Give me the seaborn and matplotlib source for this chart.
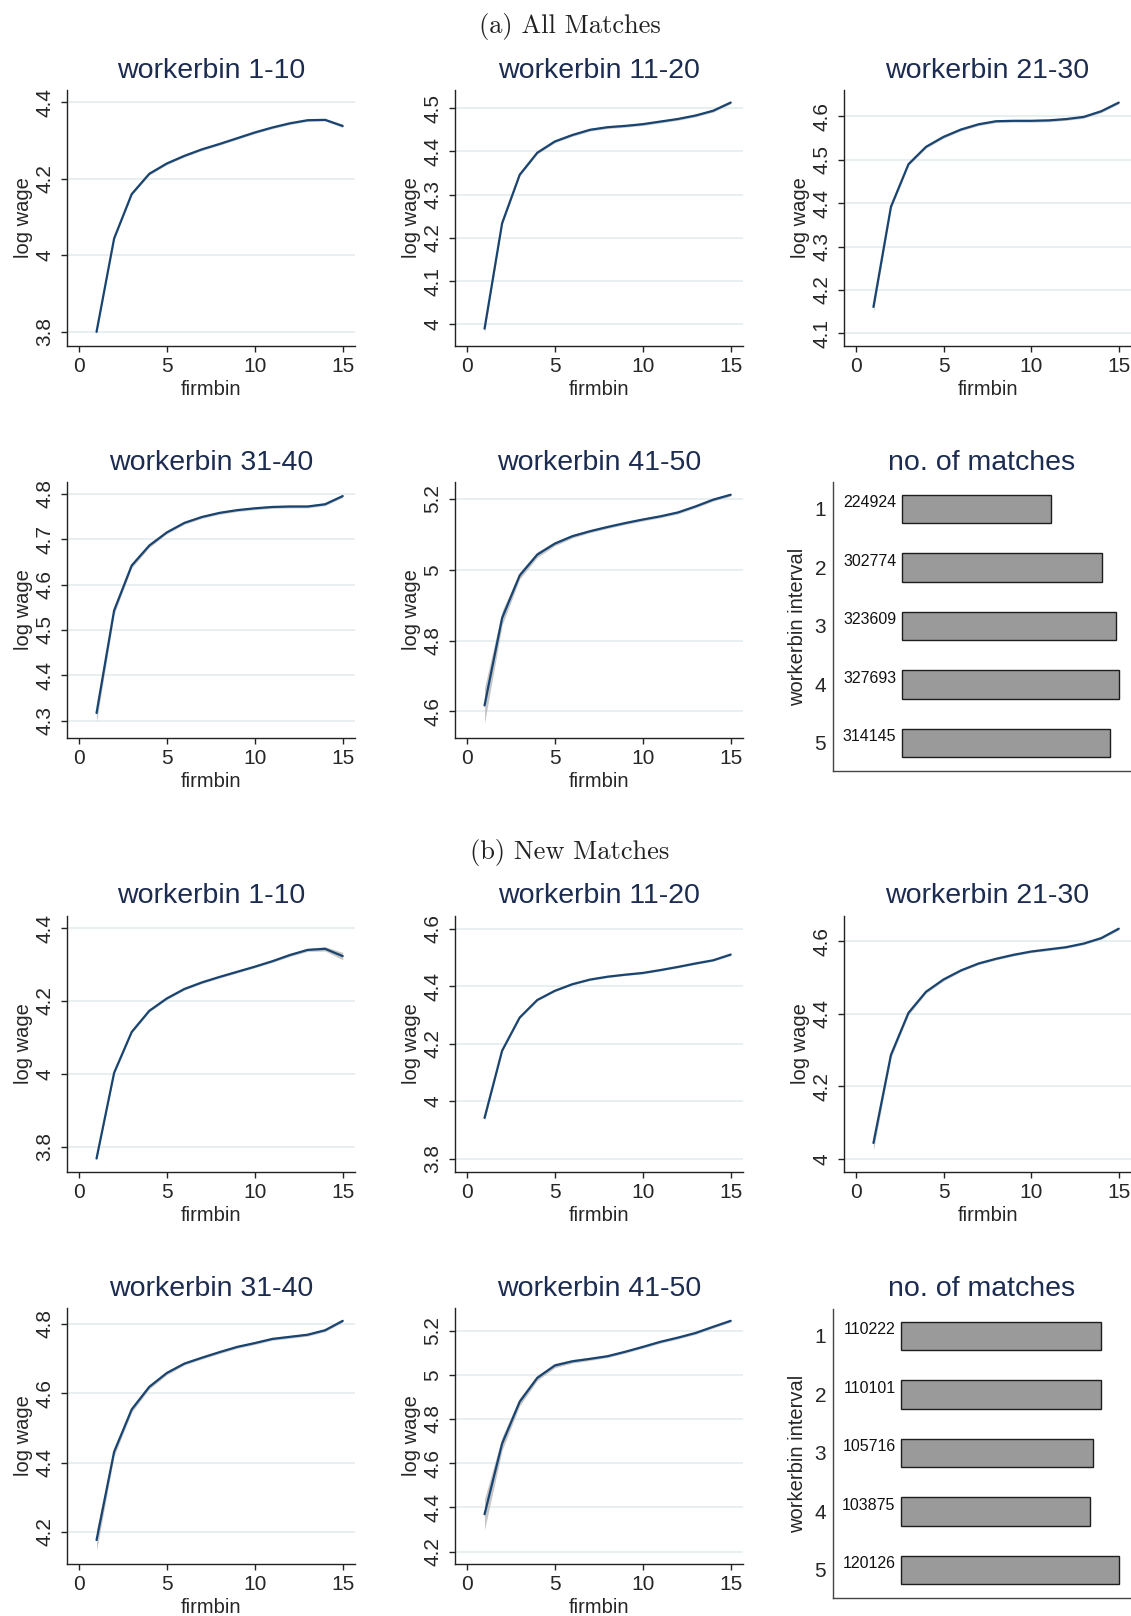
import numpy as np
import pandas as pd
import matplotlib
matplotlib.use("Agg")
import matplotlib.pyplot as plt
import seaborn as sns

# ---------------- data ----------------
firmbin = list(range(1, 16))
panel_titles = ["workerbin 1-10", "workerbin 11-20", "workerbin 21-30",
                "workerbin 31-40", "workerbin 41-50"]

# (a) All matches: mean log wage by firmbin
all_w1_10 = [3.800, 4.044, 4.160, 4.213, 4.240, 4.260, 4.277, 4.291, 4.306, 4.321, 4.334, 4.345, 4.353, 4.354, 4.338]
all_w11_20 = [3.990, 4.234, 4.346, 4.397, 4.423, 4.438, 4.450, 4.456, 4.459, 4.463, 4.469, 4.475, 4.483, 4.494, 4.513]
all_w21_30 = [4.161, 4.392, 4.490, 4.530, 4.553, 4.570, 4.582, 4.589, 4.590, 4.590, 4.591, 4.594, 4.599, 4.612, 4.632]
all_w31_40 = [4.317, 4.543, 4.642, 4.686, 4.715, 4.736, 4.749, 4.758, 4.764, 4.768, 4.771, 4.772, 4.772, 4.777, 4.795]
all_w41_50 = [4.617, 4.864, 4.984, 5.043, 5.074, 5.095, 5.109, 5.121, 5.132, 5.142, 5.151, 5.162, 5.179, 5.198, 5.212]

# (a) half-width of confidence band
all_ci1_10 = [0.004, 0.003, 0.003, 0.003, 0.003, 0.003, 0.003, 0.003, 0.003, 0.003, 0.003, 0.003, 0.003, 0.003, 0.004]
all_ci11_20 = [0.010, 0.004, 0.003, 0.003, 0.003, 0.003, 0.003, 0.003, 0.003, 0.003, 0.003, 0.003, 0.003, 0.003, 0.003]
all_ci21_30 = [0.012, 0.005, 0.003, 0.003, 0.003, 0.003, 0.003, 0.003, 0.003, 0.003, 0.003, 0.003, 0.003, 0.003, 0.003]
all_ci31_40 = [0.020, 0.008, 0.005, 0.004, 0.003, 0.003, 0.003, 0.003, 0.003, 0.003, 0.003, 0.003, 0.003, 0.003, 0.003]
all_ci41_50 = [0.050, 0.020, 0.010, 0.008, 0.006, 0.005, 0.004, 0.004, 0.004, 0.004, 0.004, 0.004, 0.004, 0.004, 0.004]

# (b) New matches
new_w1_10 = [3.768, 4.003, 4.115, 4.173, 4.207, 4.233, 4.251, 4.266, 4.280, 4.294, 4.309, 4.326, 4.340, 4.343, 4.323]
new_w11_20 = [3.942, 4.176, 4.291, 4.352, 4.384, 4.407, 4.423, 4.433, 4.440, 4.446, 4.456, 4.467, 4.479, 4.490, 4.510]
new_w21_30 = [4.044, 4.287, 4.403, 4.461, 4.495, 4.520, 4.539, 4.552, 4.563, 4.572, 4.578, 4.584, 4.594, 4.609, 4.635]
new_w31_40 = [4.177, 4.431, 4.553, 4.618, 4.658, 4.685, 4.702, 4.718, 4.733, 4.744, 4.756, 4.762, 4.768, 4.781, 4.808]
new_w41_50 = [4.369, 4.689, 4.878, 4.986, 5.042, 5.061, 5.072, 5.084, 5.104, 5.126, 5.149, 5.168, 5.189, 5.217, 5.244]

new_ci1_10 = [0.005, 0.003, 0.003, 0.003, 0.003, 0.003, 0.003, 0.003, 0.003, 0.003, 0.003, 0.004, 0.004, 0.006, 0.010]
new_ci11_20 = [0.010, 0.004, 0.003, 0.003, 0.003, 0.003, 0.003, 0.003, 0.003, 0.003, 0.003, 0.003, 0.003, 0.003, 0.004]
new_ci21_30 = [0.020, 0.008, 0.006, 0.004, 0.004, 0.003, 0.003, 0.003, 0.003, 0.003, 0.003, 0.003, 0.003, 0.003, 0.004]
new_ci31_40 = [0.030, 0.012, 0.008, 0.006, 0.005, 0.004, 0.004, 0.004, 0.004, 0.004, 0.004, 0.004, 0.004, 0.004, 0.004]
new_ci41_50 = [0.070, 0.030, 0.018, 0.012, 0.010, 0.008, 0.007, 0.006, 0.006, 0.006, 0.006, 0.006, 0.006, 0.006, 0.006]

# number of matches per workerbin interval
interval_labels = ["1", "2", "3", "4", "5"]
all_matches = [224924, 302774, 323609, 327693, 314145]
new_matches = [110222, 110101, 105716, 103875, 120126]

# y-axis ticks per panel
all_yticks = [[3.8, 4.0, 4.2, 4.4],
              [4.0, 4.1, 4.2, 4.3, 4.4, 4.5],
              [4.1, 4.2, 4.3, 4.4, 4.5, 4.6],
              [4.3, 4.4, 4.5, 4.6, 4.7, 4.8],
              [4.6, 4.8, 5.0, 5.2]]
new_yticks = [[3.8, 4.0, 4.2, 4.4],
              [3.8, 4.0, 4.2, 4.4, 4.6],
              [4.0, 4.2, 4.4, 4.6],
              [4.2, 4.4, 4.6, 4.8],
              [4.2, 4.4, 4.6, 4.8, 5.0, 5.2]]
all_ylims = [(3.763, 4.432), (3.95, 4.542), (4.071, 4.661), (4.262, 4.826), (4.525, 5.248)]
new_ylims = [(3.731, 4.433), (3.754, 4.644), (3.964, 4.670), (4.108, 4.845), (4.144, 5.302)]

# ---------------- style ----------------
sns.set_style("white")
plt.rcParams["font.family"] = ["Liberation Sans", "DejaVu Sans"]

W, H = 1131, 1616
fig = plt.figure(figsize=(W / 100, H / 100), dpi=100)
fig.patch.set_facecolor("white")

LINE_C = "#1a4470"
TITLE_C = "#1c2c50"
GRID_C = "#e6eef0"
SPINE_C = "#222222"


def box(l, t, r, b):
    return [l / W, 1 - b / H, (r - l) / W, (b - t) / H]


cols = [(67, 355), (455, 743), (844, 1131)]
rows_a = [(90, 346), (482, 738)]
rows_b = [(916, 1172), (1308, 1564)]


def line_panel(pos, title, values, ci, yticks, ylim):
    ax = fig.add_axes(pos)
    df = pd.DataFrame({"firmbin": firmbin, "lw": values})
    lo = np.array(values) - np.array(ci)
    hi = np.array(values) + np.array(ci)
    ax.fill_between(firmbin, lo, hi, color="#b8b8b8", alpha=0.8, lw=0, zorder=2)
    sns.lineplot(data=df, x="firmbin", y="lw", ax=ax, color=LINE_C, lw=1.6, zorder=3)
    ax.set_xlim(-0.68, 15.7)
    ax.set_ylim(*ylim)
    ax.set_xticks([0, 5, 10, 15])
    ax.set_yticks(yticks)
    ax.set_yticklabels(["%g" % t for t in yticks], rotation=90, va="center")
    for t in yticks:
        ax.axhline(t, color=GRID_C, lw=1.3, zorder=1)
    ax.grid(False)
    for s in ["top", "right"]:
        ax.spines[s].set_visible(False)
    for s in ["left", "bottom"]:
        ax.spines[s].set_color(SPINE_C)
        ax.spines[s].set_linewidth(1.0)
    ax.tick_params(axis="both", which="major", labelsize=15, length=4, width=1,
                   color=SPINE_C, direction="out", left=True, bottom=True)
    ax.tick_params(axis="y", pad=5)
    ax.tick_params(axis="x", pad=4)
    ax.set_xlabel("firmbin", fontsize=14.5, labelpad=3)
    ax.set_ylabel("log wage", fontsize=14.5, labelpad=2)
    ax.set_title(title, fontsize=20.5, color=TITLE_C, pad=9)
    return ax


def bar_panel(pos, counts, xlim):
    ax = fig.add_axes(pos)
    df = pd.DataFrame({"interval": interval_labels, "n": counts})
    sns.barplot(data=df, x="n", y="interval", orient="h", ax=ax, color="#9a9a9a",
                edgecolor="#1e1e1e", linewidth=1.0, width=0.49, saturation=1)
    ax.set_xlim(*xlim)
    ax.set_ylim(4.48, -0.46)
    for i, v in enumerate(counts):
        ax.annotate(str(v), xy=(0, i), xytext=(-4, 4.5), textcoords="offset points",
                    ha="right", va="center", fontsize=11.5, color="#111111")
    ax.set_xticks([])
    ax.set_xlabel("")
    ax.set_ylabel("workerbin interval", fontsize=14.5, labelpad=5)
    ax.tick_params(axis="y", length=0, pad=5, labelsize=15)
    for s in ["top", "right"]:
        ax.spines[s].set_visible(False)
    for s in ["left", "bottom"]:
        ax.spines[s].set_color("#444444")
        ax.spines[s].set_linewidth(1.0)
    ax.set_title("no. of matches", fontsize=20.5, color=TITLE_C, pad=9)
    ax.grid(False)
    return ax


all_vals = [all_w1_10, all_w11_20, all_w21_30, all_w31_40, all_w41_50]
all_cis = [all_ci1_10, all_ci11_20, all_ci21_30, all_ci31_40, all_ci41_50]
new_vals = [new_w1_10, new_w11_20, new_w21_30, new_w31_40, new_w41_50]
new_cis = [new_ci1_10, new_ci11_20, new_ci21_30, new_ci31_40, new_ci41_50]

for k in range(5):
    r, c = divmod(k, 3)
    l, rr = cols[c]
    t, b = rows_a[r]
    line_panel(box(l, t, rr, b), panel_titles[k], all_vals[k], all_cis[k],
               all_yticks[k], all_ylims[k])
    t, b = rows_b[r]
    line_panel(box(l, t, rr, b), panel_titles[k], new_vals[k], new_cis[k],
               new_yticks[k], new_ylims[k])

bar_panel(box(833, 482, 1131, 771), all_matches, (-104000, 346000))
bar_panel(box(833, 1309, 1131, 1598), new_matches, (-37500, 126700))

fig.text(570 / W, 1 - 27 / H, "(a) All Matches", ha="center", va="center",
         fontsize=19, family="cmr10", color="#222222")
fig.text(570 / W, 1 - 853 / H, "(b) New Matches", ha="center", va="center",
         fontsize=19, family="cmr10", color="#222222")

fig.savefig("out.png", dpi=100, facecolor="white")
